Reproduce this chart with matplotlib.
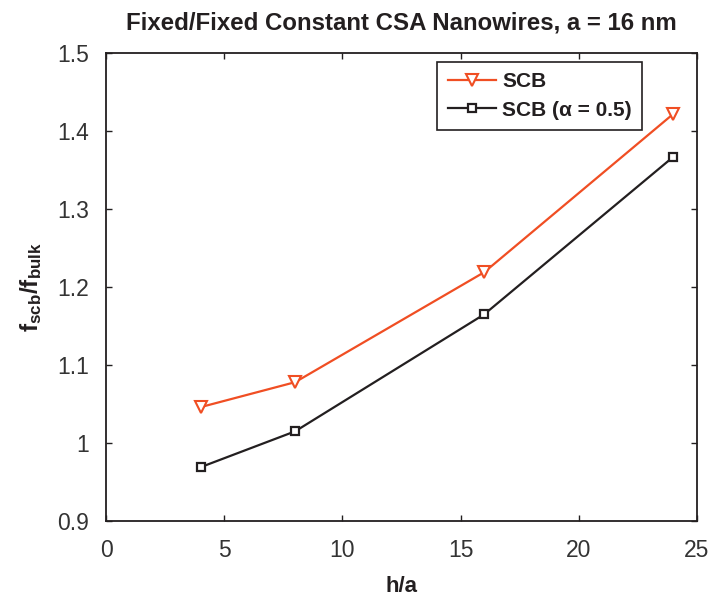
import numpy as np
import matplotlib
matplotlib.use('Agg')
import matplotlib.pyplot as plt
from matplotlib.ticker import FuncFormatter

plt.rcParams['font.family'] = ['Liberation Sans', 'DejaVu Sans']
plt.rcParams['mathtext.fontset'] = 'custom'
plt.rcParams['mathtext.rm'] = 'Liberation Sans'
plt.rcParams['mathtext.bf'] = 'Liberation Sans:bold'
plt.rcParams['mathtext.it'] = 'Liberation Sans:italic'

h_over_a = [4, 8, 16, 24]
scb = [1.046, 1.078, 1.219, 1.422]
scb_alpha = [0.969, 1.015, 1.165, 1.367]

fig = plt.figure(figsize=(7.13, 5.96), dpi=100)
ax = fig.add_axes([0.1487, 0.1258, 0.8289, 0.7853])

orange = '#F04E23'
dark = '#231F20'
ax.plot(h_over_a, scb, color=orange, lw=1.6, marker='v', ms=8,
        mfc='white', mec=orange, mew=1.5, label='SCB')
ax.plot(h_over_a, scb_alpha, color=dark, lw=1.6, marker='s', ms=5.5,
        mfc='white', mec=dark, mew=1.6, label='SCB (\u03b1 = 0.5)')

ax.set_xlim(0, 25)
ax.set_ylim(0.9, 1.5)
ax.set_xticks(np.arange(0, 26, 5))
ax.set_yticks(np.arange(0.9, 1.51, 0.1))
ax.yaxis.set_major_formatter(FuncFormatter(lambda v, p: '%g' % round(v, 2)))
ax.tick_params(direction='in', top=True, right=True, length=4, width=1,
               labelsize=16.5, colors=dark, labelcolor='#333333')
ax.tick_params(axis='y', pad=12)
ax.tick_params(axis='x', pad=13)
for s in ax.spines.values():
    s.set_linewidth(1.3)
    s.set_color(dark)

ax.set_xlabel('h/a', fontsize=16, fontweight='bold', labelpad=10, color=dark)
ax.set_ylabel(r'$\mathbf{f_{scb}/f_{bulk}}$', fontsize=17.5, labelpad=10,
              color=dark)
ax.set_title('Fixed/Fixed Constant CSA Nanowires, a = 16 nm',
             fontsize=17.3, fontweight='bold', pad=17, color=dark)

leg = ax.legend(loc='upper right', bbox_to_anchor=(0.907, 0.981),
                prop={'weight': 'bold', 'size': 15}, fancybox=False,
                edgecolor=dark, framealpha=1, borderpad=0.5,
                handlelength=2.3, handletextpad=0.3, labelspacing=0.45,
                borderaxespad=0)
leg.get_frame().set_linewidth(1.2)
for t in leg.get_texts():
    t.set_color(dark)

fig.savefig('out.png', dpi=100)
